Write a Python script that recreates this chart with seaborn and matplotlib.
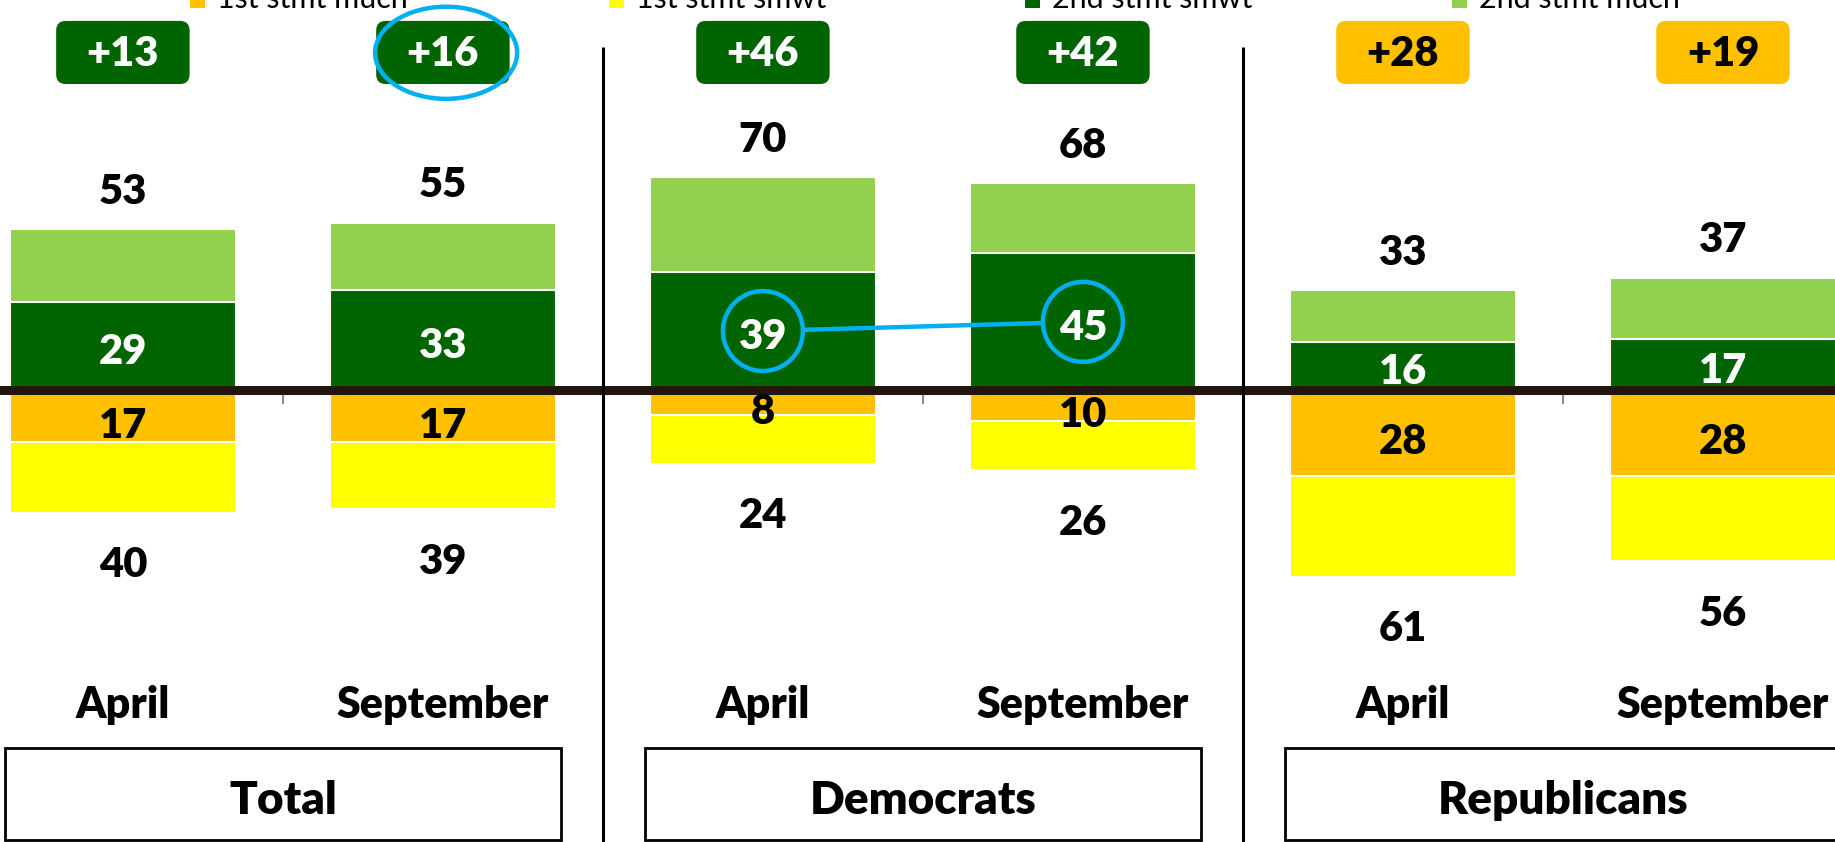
import numpy as np
import pandas as pd
import matplotlib
matplotlib.use("Agg")
import matplotlib.pyplot as plt
from matplotlib.patches import FancyBboxPatch, Ellipse, Rectangle
import seaborn as sns

# data
groups = ["Total", "Democrats", "Republicans"]
months = ["April", "September"]
first_much = [17, 17, 8, 10, 28, 28]
first_smwt = [23, 22, 16, 16, 33, 28]
second_smwt = [29, 33, 39, 45, 16, 17]
second_much = [24, 22, 31, 23, 17, 20]
legend_labels = ["1st stmt much", "1st stmt smwt", "2nd stmt smwt", "2nd stmt much"]

ORANGE = "#FFC000"
YELLOW = "#FFFF00"
DKGREEN = "#006400"
LTGREEN = "#92D050"
BLUE = "#00B0F0"

cols = [f"{g} {m}" for g in groups for m in months]
df = pd.DataFrame({
    "col": cols,
    "much1": first_much,
    "smwt1": first_smwt,
    "smwt2": second_smwt,
    "much2": second_much,
})
df["pos"] = df["smwt2"] + df["much2"]
df["neg"] = df["smwt1"] + df["much1"]
df["net"] = df["pos"] - df["neg"]

sns.set_style("white")
plt.rcParams["font.family"] = ["Lato", "DejaVu Sans"]
plt.rcParams["text.color"] = "black"

fig = plt.figure(figsize=(18.35, 8.42), dpi=100)
ax = fig.add_axes([0, 0, 1, 1])

bw = 0.706
bar_kw = dict(x="col", order=cols, saturation=1, width=bw, errorbar=None,
              edgecolor="white", linewidth=1.5, ax=ax)
sns.barplot(data=df, y="pos", color=LTGREEN, **bar_kw)
sns.barplot(data=df, y="smwt2", color=DKGREEN, **bar_kw)
sns.barplot(data=df.assign(neg=-df["neg"]), y="neg", color=YELLOW, **bar_kw)
sns.barplot(data=df.assign(much1=-df["much1"]), y="much1", color=ORANGE, **bar_kw)

ax.set_xlim(-0.384, 5.35)
ax.set_ylim(-148, 128)
ax.set_axis_off()

# zero line, small ticks, separators
ax.vlines([0.5, 2.5, 4.5], -4.3, 0, color="#8c8c8c", lw=1.5, zorder=1.5)
ax.axhline(0, color="#22150d", lw=6.5, zorder=2)
ax.vlines([1.5, 3.5], -148, 112.6, color="black", lw=2.2, zorder=2)

BOLD = "heavy"
for i, r in df.iterrows():
    ax.text(i, r["smwt2"] / 2 - 2, str(r["smwt2"]), color="white", fontsize=30,
            fontweight=BOLD, ha="center", va="center", zorder=4)
    ax.text(i, -r["much1"] / 2 - 3, str(r["much1"]), color="black", fontsize=30,
            fontweight=BOLD, ha="center", va="center", zorder=4)
    ax.text(i, r["pos"] + 12.2, str(r["pos"]), color="black", fontsize=30,
            fontweight=BOLD, ha="center", va="center", zorder=4)
    ax.text(i, -r["neg"] - 17.3, str(r["neg"]), color="black", fontsize=30,
            fontweight=BOLD, ha="center", va="center", zorder=4)

    # net difference boxes
    fc = DKGREEN if r["net"] > 0 else ORANGE
    tc = "white" if r["net"] > 0 else "black"
    bx = FancyBboxPatch((i - 0.2085, 100.45), 0.417, 20.7,
                        boxstyle="round,pad=0,rounding_size=0.03",
                        mutation_aspect=104.9, fc=fc, ec="none", zorder=3)
    ax.add_patch(bx)
    ax.text(i, 110.3, f"+{abs(r['net'])}", color=tc, fontsize=30,
            fontweight=BOLD, ha="center", va="center", zorder=4)

    ax.text(i, -107.4, months[i % 2], color="black", fontsize=31,
            fontweight=BOLD, ha="center", va="baseline", zorder=4)

# group label boxes
for g, name in enumerate(groups):
    cx = 2 * g + 0.5
    ax.add_patch(Rectangle((cx - 0.8685, -147.5), 1.737, 30.3, fc="white",
                           ec="black", lw=2, zorder=3))
    ax.text(cx, -134.3, name, color="black", fontsize=33, fontweight=BOLD,
            ha="center", va="center", zorder=4)

# blue highlights
ax.add_patch(Ellipse((1.01, 110.7), 0.444, 30.2, fill=False, ec=BLUE, lw=3.2, zorder=6))
ca = np.array([2, df.loc[2, "smwt2"] / 2])
cb = np.array([3, df.loc[3, "smwt2"] / 2])
for c in (ca, cb):
    ax.add_patch(Ellipse(tuple(c), 0.25, 26.2, fill=False, ec=BLUE, lw=3.2, zorder=6))
f = 0.125
p0 = ca + f * (cb - ca)
p1 = cb - f * (cb - ca)
ax.plot([p0[0], p1[0]], [p0[1], p1[1]], color=BLUE, lw=3.2, zorder=6)

# legend, cut off at the top edge
leg_colors = [ORANGE, YELLOW, DKGREEN, LTGREEN]
leg_x = [190, 609, 1025, 1452]
W, H = 1835, 842
for lx, lc, lt in zip(leg_x, leg_colors, legend_labels):
    fig.add_artist(Rectangle((lx / W, 1 - 8 / H), 15 / W, 15 / H, fc=lc, ec="none",
                             transform=fig.transFigure))
    fig.text((lx + 27) / W, 1 - 8 / H, lt, color="black", fontsize=22,
             va="baseline", ha="left")

fig.savefig("out.png", dpi=100)
